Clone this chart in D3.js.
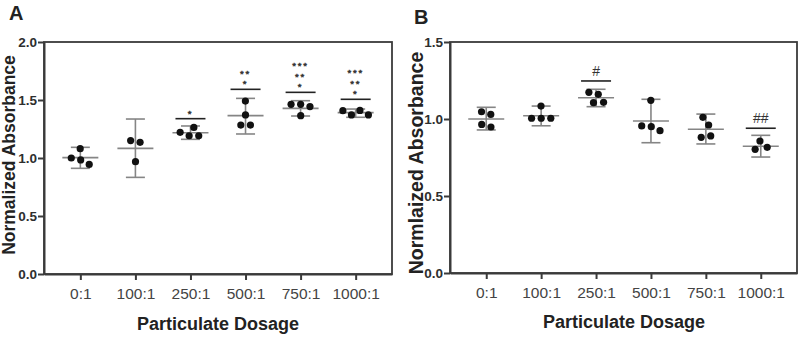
<!DOCTYPE html>
<html>
<head>
<meta charset="utf-8">
<script src="https://cdn.jsdelivr.net/npm/d3@7"></script>
<style>
  body { margin: 0; background: #fff; }
  svg { display: block; font-family: "Liberation Sans", Arial, sans-serif; }
  .axis path, .axis line { stroke: #3a3a3a; stroke-width: 2; }
  .axis text { fill: #2e2e2e; font-weight: bold; font-size: 13.5px; }
</style>
</head>
<body>
<svg id="chart" width="800" height="337"></svg>
<script>
// Shared categories
const categories = ['0:1', '100:1', '250:1', '500:1', '750:1', '1000:1'];

// Panel A values
const pointsA = [
  [1.08, 1.00, 0.983, 0.945],
  [1.15, 1.135, 0.968],
  [1.264, 1.221, 1.192, 1.192],
  [1.491, 1.371, 1.284, 1.284],
  [1.463, 1.463, 1.443, 1.365],
  [1.408, 1.41, 1.371, 1.371]
];
const meanA = [1.003, 1.083, 1.218, 1.365, 1.428, 1.391];
const lowA = [0.911, 0.833, 1.161, 1.207, 1.362, 1.351];
const highA = [1.092, 1.336, 1.276, 1.514, 1.494, 1.422];
const sigA = [null, null, 1.339, 1.592, 1.566, 1.506];
const sigLabelsA = [[], [], ['*'], ['*', '**'], ['*', '**', '***'], ['*', '**', '***']];
const yTicksA = [0, 0.5, 1.0, 1.5, 2.0];

// Panel B values
const pointsB = [
  [1.047, 1.030, 0.965, 0.948],
  [1.084, 1.005, 1.005, 1.005],
  [1.173, 1.160, 1.106, 1.108],
  [1.121, 0.955, 0.950, 0.924],
  [1.011, 0.961, 0.881, 0.890],
  [0.857, 0.803, 0.816]
];
const meanB = [1.0, 1.021, 1.138, 0.987, 0.933, 0.823];
const lowB = [0.929, 0.956, 1.080, 0.846, 0.838, 0.753];
const highB = [1.076, 1.084, 1.193, 1.128, 1.032, 0.894];
const sigB = [null, null, 1.247, null, null, 0.940];
const sigLabelsB = [[], [], ['#'], [], [], ['##']];
const yTicksB = [0, 0.5, 1.0, 1.5];

const svg = d3.select('#chart');
const dotR = 3.6;
const starRow = 10.8;

function drawPanel(opts) {
  const { left, right, top, bottom, yMax, yTicks, points, mean, low, high, sig, sigLabels } = opts;

  const x = d3.scalePoint().domain(categories).range([left, right]).padding(0.66);
  const y = d3.scaleLinear().domain([0, yMax]).range([bottom, top]);

  const g = svg.append('g');

  // frame (top + right)
  g.append('rect')
      .attr('x', left).attr('y', top)
      .attr('width', right - left).attr('height', bottom - top)
      .attr('fill', 'none').attr('stroke', '#3a3a3a').attr('stroke-width', 1.8);

  g.append('g')
      .attr('class', 'axis')
      .attr('transform', `translate(${left},0)`)
      .call(d3.axisLeft(y).tickValues(yTicks).tickFormat(d3.format('.1f')).tickSize(6).tickPadding(1).tickSizeOuter(0));

  const xa = g.append('g')
      .attr('class', 'axis')
      .attr('transform', `translate(0,${bottom})`)
      .call(d3.axisBottom(x).tickSize(6).tickPadding(8).tickSizeOuter(0));
  xa.selectAll('text')
      .style('font-weight', 'normal')
      .style('font-size', '15.5px')
      .style('fill', '#444');

  // error bars: mean line, whisker, caps
  categories.forEach((c, i) => {
    const cx = x(c);
    const eg = g.append('g').attr('stroke', '#858585').attr('stroke-width', 1.6);
    eg.append('line').attr('x1', cx).attr('x2', cx).attr('y1', y(low[i])).attr('y2', y(high[i]));
    eg.append('line').attr('x1', cx - 9.5).attr('x2', cx + 9.5).attr('y1', y(low[i])).attr('y2', y(low[i]));
    eg.append('line').attr('x1', cx - 9.5).attr('x2', cx + 9.5).attr('y1', y(high[i])).attr('y2', y(high[i]));
    eg.append('line').attr('x1', cx - 18).attr('x2', cx + 18).attr('y1', y(mean[i])).attr('y2', y(mean[i]));

    // scatter dots spread with a small collide layout
    const nodes = points[i].map((v, j) => ({
      v, fy: y(v), x: cx + (j - (points[i].length - 1) / 2) * 3
    }));
    const sim = d3.forceSimulation(nodes)
        .force('x', d3.forceX(cx).strength(0.05))
        .force('collide', d3.forceCollide(dotR + 1.2))
        .stop();
    for (let k = 0; k < 300; k++) sim.tick();

    g.selectAll(null)
        .data(nodes)
        .enter()
        .append('circle')
        .attr('cx', d => d.x)
        .attr('cy', d => y(d.v))
        .attr('r', dotR)
        .attr('fill', '#111');

    // significance line + markers
    if (sig[i] != null) {
      const sy = y(sig[i]);
      g.append('line')
          .attr('x1', cx - 15).attr('x2', cx + 15)
          .attr('y1', sy).attr('y2', sy)
          .attr('stroke', '#222').attr('stroke-width', 1.6);
      sigLabels[i].forEach((s, k) => {
        const isHash = s.includes('#');
        g.append('text')
            .attr('x', cx)
            .attr('y', isHash ? sy - 5 : sy - 1.9 - k * starRow)
            .attr('text-anchor', 'middle')
            .style('font-size', isHash ? '14px' : '9.5px')
            .style('letter-spacing', isHash ? '0px' : '1.8px')
            .style('fill', '#333')
            .style('stroke', isHash ? 'none' : '#333')
            .style('stroke-width', 0.45)
            .text(s);
      });
    }
  });

  return { x, y };
}

drawPanel({
  left: 44, right: 392, top: 42, bottom: 274, yMax: 2.0, yTicks: yTicksA,
  points: pointsA, mean: meanA, low: lowA, high: highA, sig: sigA, sigLabels: sigLabelsA
});

drawPanel({
  left: 450, right: 797, top: 42, bottom: 273, yMax: 1.5, yTicks: yTicksB,
  points: pointsB, mean: meanB, low: lowB, high: highB, sig: sigB, sigLabels: sigLabelsB
});

// titles
const titles = svg.append('g').style('font-weight', 'bold').style('fill', '#222');

titles.append('text').attr('x', 9).attr('y', 20).style('font-size', '20px').text('A');
titles.append('text').attr('x', 414).attr('y', 24).style('font-size', '20px').text('B');

titles.append('text')
    .attr('transform', 'translate(15,155) rotate(-90)')
    .attr('text-anchor', 'middle')
    .style('font-size', '17.5px')
    .text('Normalized Absorbance');

titles.append('text')
    .attr('transform', 'translate(423,163) rotate(-90)')
    .attr('text-anchor', 'middle')
    .style('font-size', '19.5px')
    .text('Normlaized Absorbance');

titles.append('text')
    .attr('x', 218).attr('y', 330)
    .attr('text-anchor', 'middle')
    .style('font-size', '18px')
    .text('Particulate Dosage');

titles.append('text')
    .attr('x', 624).attr('y', 328)
    .attr('text-anchor', 'middle')
    .style('font-size', '18px')
    .text('Particulate Dosage');
</script>
</body>
</html>
